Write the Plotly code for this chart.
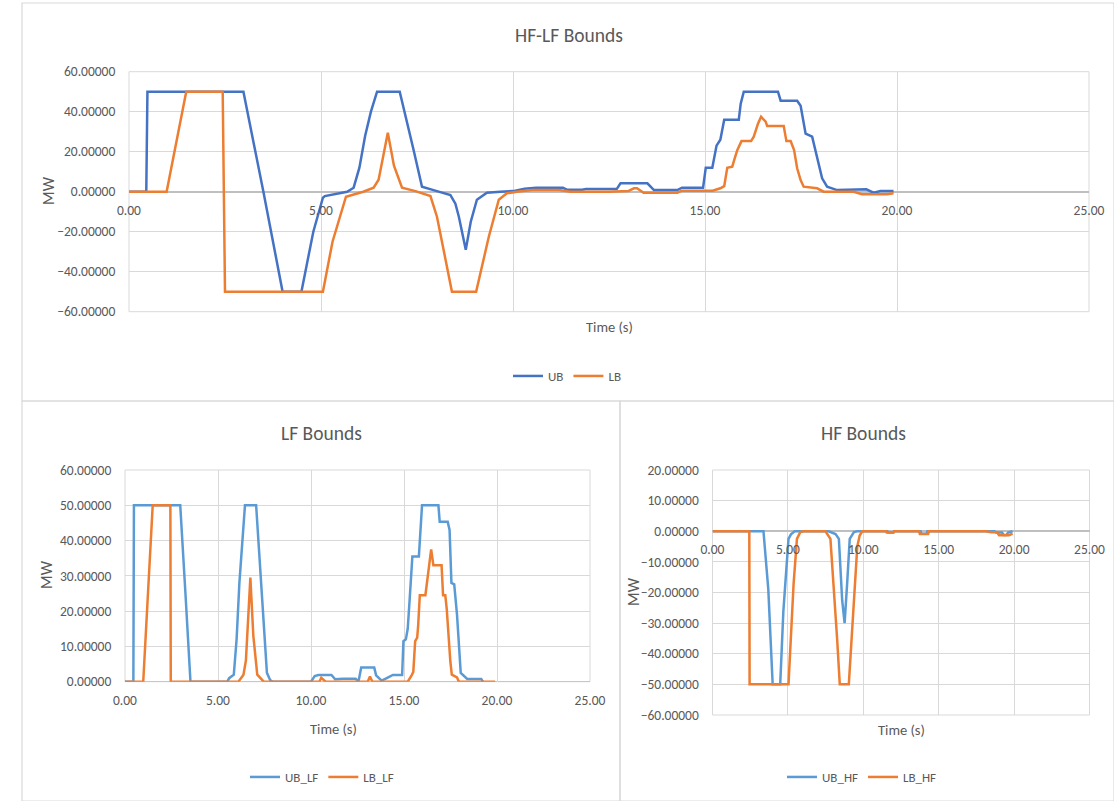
import plotly.graph_objects as go

# ---------------- data ----------------
# HF-LF Bounds
t_ub = [0, 0.45, 0.48, 2.98, 3.25, 3.5, 4.0, 4.49, 4.8, 5.05, 5.1, 5.4, 5.68, 5.85, 6.0, 6.15, 6.3, 6.46,
        7.05, 7.41, 7.63, 7.93, 8.2, 8.37, 8.5, 8.59, 8.77, 8.9, 9.06, 9.32, 9.67, 10.0, 10.3, 10.6, 11.3,
        11.4, 11.8, 11.9, 12.7, 12.8, 13.5, 13.67, 14.28, 14.4, 14.95, 15.02, 15.19, 15.23, 15.3, 15.4,
        15.5, 15.88, 15.93, 16.01, 16.9, 16.97, 17.4, 17.49, 17.62, 17.79, 17.92, 18.05, 18.18, 18.44,
        19.2, 19.39, 19.57, 19.91]
ub = [0, 0, 50, 50, 24, 0, -50, -50, -20, -3, -2.2, -1, 0, 2, 12, 28, 40, 50,
      50, 21, 2.5, 0.8, -0.5, -1.7, -6, -12.5, -29, -15, -4, -0.5, 0, 0.3, 1.5, 2, 2,
      1, 1, 1.3, 1.3, 4.2, 4.2, 0.8, 0.8, 2, 2, 12, 12, 16, 23, 26,
      36, 36, 44, 50, 50, 45.5, 45.5, 43, 29, 27.5, 17.5, 6.7, 2.5, 0.8,
      1.2, -0.5, 0.3, 0.3]

t_lb = [0, 0.98, 1.49, 2.44, 2.5, 5.05, 5.3, 5.65, 6.1, 6.37, 6.5, 6.74, 6.9, 7.11, 7.46, 7.85, 8.02,
        8.41, 9.04, 9.15, 9.37, 9.63, 9.84, 10.1, 10.5, 11.2, 11.5, 12.5, 13.0, 13.15, 13.23, 13.4,
        14.28, 14.4, 15.2, 15.4, 15.5, 15.58, 15.71, 15.76, 15.84, 15.95, 16.2, 16.27, 16.38, 16.46,
        16.58, 16.62, 17.05, 17.12, 17.23, 17.32, 17.4, 17.49, 17.57, 17.92, 18.09, 18.87, 19.09,
        19.74, 19.91]
lb = [0, 0, 50, 50, -50, -50, -25, -2.5, 0, 2, 6, 29.5, 13, 2, 0.3, -2.2, -12.5,
      -50, -50, -41, -22.5, -4, -0.8, 0, 0.8, 0.8, 0, 0, 0.3, 1.7, 1.7, -0.5,
      -0.5, 0.5, 0.5, 1.7, 2.8, 12, 12.5, 15.8, 20.8, 25.3, 25.3, 27.5, 34, 37.5,
      35, 32.8, 32.8, 25.3, 25.3, 20.8, 11.7, 5.8, 2.5, 1.7, 0, 0, -1.3,
      -1.3, -0.8]

# LF Bounds
t_ub_lf = [0, 0.45, 0.48, 2.97, 3.25, 3.52, 5.5, 5.6, 5.85, 6.0, 6.15, 6.3, 6.45, 7.05, 7.3, 7.41, 7.63,
           7.8, 7.95, 10.0, 10.2, 10.4, 11.1, 11.3, 11.7, 12.4, 12.55, 12.7, 13.4, 13.5, 13.8, 14.1,
           14.4, 14.9, 14.97, 15.1, 15.2, 15.3, 15.45, 15.8, 15.88, 15.97, 16.85, 16.92, 17.35, 17.45,
           17.55, 17.7, 17.85, 18.05, 18.4, 19.15, 19.25]
ub_lf = [0, 0, 50, 50, 25, 0, 0, 1, 2, 12, 28, 40, 50, 50, 30, 21, 2.5,
         0.5, 0, 0, 1.6, 1.9, 1.9, 0.7, 0.85, 0.85, 0, 4, 4, 1.8, 0.3, 1.1,
         1.9, 1.9, 11.5, 12, 15, 23, 35.5, 35.5, 43.7, 50, 50, 45.3, 45.3, 43,
         28, 27.6, 19, 2.5, 0.8, 0.8, 0]

t_lb_lf = [0, 0.98, 1.49, 2.44, 2.46, 6.1, 6.37, 6.5, 6.74, 6.9, 7.11, 7.46, 10.45, 10.55, 10.7, 10.8,
           13.05, 13.17, 13.3, 15.2, 15.4, 15.5, 15.6, 15.71, 15.76, 15.85, 16.15, 16.27, 16.38, 16.46,
           16.58, 17.02, 17.1, 17.22, 17.3, 17.4, 17.49, 17.57, 17.85, 17.95, 19.9]
lb_lf = [0, 0, 50, 50, 0, 0, 2, 6, 29.5, 13, 2, 0, 0, 1.1, 0.4, 0,
         0, 1.5, 0, 0, 1.7, 2.8, 11.5, 12.5, 15.8, 24.5, 24.5, 29.5, 34, 37.5,
         33, 33, 24.5, 24.5, 20.5, 11.7, 5.8, 2, 1.2, 0, 0]

# HF Bounds
t_ub_hf = [0, 3.38, 3.7, 3.99, 4.49, 4.7, 5.04, 5.2, 5.45, 7.7, 8.16, 8.38, 8.6, 8.76, 8.93, 9.1, 9.38,
           9.6, 11.6, 11.65, 12.0, 12.05, 13.8, 13.85, 14.2, 14.25, 18.7, 18.8, 19.2, 19.3, 19.5, 19.6,
           19.9]
ub_hf = [0, 0, -19, -50, -50, -26, -2.5, -1, 0, 0, -0.9, -2.5, -22.6, -30, -17, -2.5, -0.3,
         0, 0, -0.4, -0.4, 0, 0, -0.8, -0.8, 0, 0, -0.4, -0.4, -1.2, -1.2, -0.4,
         0]

t_lb_hf = [0, 2.44, 2.46, 5.04, 5.38, 5.6, 5.82, 6.04, 7.49, 7.82, 8.27, 8.44, 9.04, 9.27, 9.42, 9.6,
           9.76, 9.93, 11.5, 11.55, 12.0, 12.05, 13.7, 13.75, 14.3, 14.35, 18.1, 18.5, 18.87, 19.0,
           19.67, 19.9]
lb_hf = [0, 0, -50, -50, -17, -2.5, -0.3, 0, 0, -2.5, -35.6, -50, -50, -31, -22.6, -5,
         -1.4, 0, 0, -0.4, -0.4, 0, 0, -0.9, -0.9, 0, 0, -0.3, -0.3, -1.3,
         -1.3, -0.8]

x_ticks = [0, 5, 10, 15, 20, 25]

# ---------------- styling ----------------
W, H = 1114, 801
FONT = "Calibri, Carlito, 'Liberation Sans Narrow', 'Open Sans', sans-serif"
TXT = "#595959"
GRID = "#D9D9D9"
ZERO = "#BFBFBF"
BLUE_DARK = "#4472C4"
BLUE = "#5B9BD5"
ORANGE = "#ED7D31"


def fx(px):
    return px / W


def fy(py):
    return 1 - py / H


fig = go.Figure()

fig.add_trace(go.Scatter(x=t_ub, y=ub, name="UB", mode="lines",
                         line=dict(color=BLUE_DARK, width=2.5), xaxis="x", yaxis="y", legend="legend"))
fig.add_trace(go.Scatter(x=t_lb, y=lb, name="LB", mode="lines",
                         line=dict(color=ORANGE, width=2.5), xaxis="x", yaxis="y", legend="legend"))
fig.add_trace(go.Scatter(x=t_ub_lf, y=ub_lf, name="UB_LF", mode="lines",
                         line=dict(color=BLUE, width=2.5), xaxis="x2", yaxis="y2", legend="legend2"))
fig.add_trace(go.Scatter(x=t_lb_lf, y=lb_lf, name="LB_LF", mode="lines",
                         line=dict(color=ORANGE, width=2.5), xaxis="x2", yaxis="y2", legend="legend2"))
fig.add_trace(go.Scatter(x=t_ub_hf, y=ub_hf, name="UB_HF", mode="lines",
                         line=dict(color=BLUE, width=2.5), xaxis="x3", yaxis="y3", legend="legend3"))
fig.add_trace(go.Scatter(x=t_lb_hf, y=lb_hf, name="LB_HF", mode="lines",
                         line=dict(color=ORANGE, width=2.5), xaxis="x3", yaxis="y3", legend="legend3"))

tickfont = dict(family=FONT, size=13.5, color=TXT)


def xaxis(dom, anchor_pos=None, anchor=None):
    d = dict(domain=dom, range=[0, 25], tickvals=x_ticks, tickformat=".2f",
             showgrid=True, gridcolor=GRID, gridwidth=1, zeroline=False, showline=False,
             ticks="outside", ticklen=6, tickcolor="rgba(0,0,0,0)", tickfont=tickfont,
             fixedrange=True, automargin=False)
    if anchor_pos is not None:
        d.update(anchor="free", position=anchor_pos)
    else:
        d.update(anchor=anchor)
    return d


def yaxis(dom, rng, dtick, anchor, zero=True):
    return dict(domain=dom, range=rng, dtick=dtick, tickformat=".5f", anchor=anchor,
                showgrid=True, gridcolor=GRID, gridwidth=1,
                zeroline=zero, zerolinecolor=ZERO, zerolinewidth=1.5, showline=False,
                ticks="outside", ticklen=10, tickcolor="rgba(0,0,0,0)", tickfont=tickfont,
                fixedrange=True, automargin=False)


# top chart
y1dom = [fy(311.7), fy(71.7)]
fig.update_layout(
    xaxis=xaxis([fx(129), fx(1089)], anchor_pos=fy(191.7)),
    yaxis=yaxis(y1dom, [-60, 60], 20, "x"),
)
# LF chart
y2dom = [fy(681.7), fy(470)]
fig.update_layout(
    xaxis2=xaxis([fx(125), fx(590)], anchor="y2"),
    yaxis2=yaxis(y2dom, [0, 60], 10, "x2", zero=False),
)
# HF chart
y3dom = [fy(715), fy(470)]
fig.update_layout(
    xaxis3=xaxis([fx(712.5), fx(1089.5)], anchor_pos=fy(530.7)),
    yaxis3=yaxis(y3dom, [-60, 20], 10, "x3"),
)

shapes = []
# chart frames
for x0, y0, x1, y1 in [(22, 3, 1114, 401), (22, 401, 620, 801), (620, 401, 1114, 801)]:
    shapes.append(dict(type="rect", xref="paper", yref="paper", x0=fx(x0), x1=fx(x1),
                       y0=fy(y1), y1=fy(y0), line=dict(color=GRID, width=1.2), layer="below"))
# plot area borders
for xr, yr in [("x", "y"), ("x2", "y2"), ("x3", "y3")]:
    shapes.append(dict(type="rect", xref=f"{xr} domain", yref=f"{yr} domain", x0=0, x1=1, y0=0, y1=1,
                       line=dict(color=GRID, width=1), layer="below"))
# LF zero axis line (bottom)
shapes.append(dict(type="line", xref="x2 domain", yref="y2", x0=0, x1=1, y0=0, y1=0,
                   line=dict(color=ZERO, width=1.5), layer="below"))

ann = []
titlefont = dict(family=FONT, size=19.5, color=TXT)
labfont = dict(family=FONT, size=14.5, color=TXT)
mwfont = dict(family=FONT, size=16, color=TXT)
for txt, x, y in [("HF-LF Bounds", 569, 35), ("LF Bounds", 321, 433), ("HF Bounds", 863, 433)]:
    ann.append(dict(text=txt, x=fx(x), y=fy(y), xref="paper", yref="paper", showarrow=False,
                    xanchor="center", yanchor="middle", font=titlefont))
for txt, x, y in [("Time (s)", 609, 327), ("Time (s)", 333, 729), ("Time (s)", 901, 730)]:
    ann.append(dict(text=txt, x=fx(x), y=fy(y), xref="paper", yref="paper", showarrow=False,
                    xanchor="center", yanchor="middle", font=labfont))
for x, y in [(48, 191), (46, 575), (633, 592)]:
    ann.append(dict(text="MW", x=fx(x), y=fy(y), xref="paper", yref="paper", showarrow=False,
                    textangle=-90, xanchor="center", yanchor="middle", font=mwfont))

legfont = dict(family=FONT, size=13, color=TXT)
leg = dict(orientation="h", xanchor="center", yanchor="middle", font=legfont,
           bgcolor="rgba(0,0,0,0)", itemwidth=30, tracegroupgap=0)

fig.update_layout(
    width=W, height=H, margin=dict(l=0, r=0, t=0, b=0, autoexpand=False),
    paper_bgcolor="white", plot_bgcolor="white",
    showlegend=True,
    legend=dict(leg, x=fx(567), y=fy(376)),
    legend2=dict(leg, x=fx(322), y=fy(777)),
    legend3=dict(leg, x=fx(862), y=fy(777)),
    shapes=shapes, annotations=ann,
    font=dict(family=FONT, color=TXT),
)

fig.write_html(
    "out.html",
    config={"displayModeBar": False},
    post_script="document.documentElement.style.margin='0';document.body.style.margin='0';"
                "document.body.style.overflow='hidden';",
)
